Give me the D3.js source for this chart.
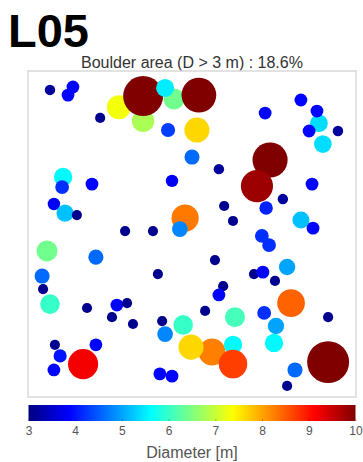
<!DOCTYPE html>
<html>
<head>
<meta charset="utf-8">
<script src="https://cdn.jsdelivr.net/npm/d3@7"></script>
<style>
  html, body { margin: 0; padding: 0; background: #fff; }
  svg { display: block; font-family: "Liberation Sans", Arial, sans-serif; }
</style>
</head>
<body>
<svg id="chart" width="363" height="462"></svg>
<script>
// Boulder positions within the 100 m x 100 m site (metres), in draw order
const boulderX = [
  6.7, 13.7, 12.2, 22.0,
  27.7, 35.1, 44.5, 35.1, 52.1, 41.8, 51.5, 42.7, 50.0,
  10.7, 10.4, 19.5, 43.9, 7.9, 11.3, 14.9,
  47.9, 46.3,
  58.2, 73.8, 69.8, 72.3, 83.2, 88.7, 88.1, 85.7, 94.5, 89.9, 86.6, 77.7, 72.6, 59.8, 62.5, 83.2, 86.9,
  29.6, 38.1, 5.8, 20.7, 4.3, 4.6, 6.7, 18.0, 27.1, 30.2, 25.6, 32.0, 39.6, 40.9,
  47.3, 41.8, 8.2, 9.8, 7.9, 16.8, 20.7, 40.2, 43.9,
  71.3, 73.5, 57.0, 68.9, 71.6, 75.3, 79.0, 59.5, 58.2, 80.2, 54.0, 63.1, 72.0, 75.6, 91.5,
  75.0, 56.1, 49.7, 62.5, 62.5, 81.4, 79.0, 91.5
];
const boulderY = [
  94.2, 95.1, 92.6, 85.6,
  88.9, 84.7, 91.4, 92.3, 92.6, 94.8, 81.9, 81.9, 73.6,
  67.5, 64.4, 65.3, 66.3, 59.2, 56.4, 55.8,
  54.9, 51.5,
  69.9, 72.7, 64.7, 87.1, 91.1, 84.0, 87.7, 81.6, 81.6, 77.6, 65.3, 60.7, 58.0, 58.6, 54.0, 54.3, 51.8,
  50.9, 50.9, 44.8, 42.9, 37.1, 33.1, 28.5, 27.3, 28.2, 28.8, 24.5, 22.4, 37.7, 23.3,
  22.1, 19.3, 16.0, 12.6, 8.3, 10.1, 16.0, 7.1, 6.4,
  49.4, 46.6, 42.0, 37.7, 38.3, 35.6, 39.9, 34.0, 31.3, 28.8, 26.4, 24.5, 25.8, 21.8, 24.5,
  16.6, 13.8, 15.3, 16.0, 10.1, 8.3, 3.4, 10.7
];
// Boulder diameters (m)
const boulderD = [
  3.2, 3.9, 3.9, 3.1,
  7.3, 6.8, 6.4, 12.2, 10.6, 5.5, 7.65, 4.3, 4.6,
  5.6, 4.2, 3.9, 3.8, 3.8, 5.2, 3.1,
  8.3, 4.8,
  3.2, 10.7, 9.8, 3.9, 3.9, 5.4, 3.9, 3.9, 3.2, 5.4, 3.9, 3.2, 4.1, 3.1, 3.1, 5.2, 3.9,
  3.1, 3.1, 6.4, 4.6, 4.6, 3.1, 6.0, 3.1, 3.9, 3.1, 3.1, 3.1, 3.1, 3.1,
  6.0, 4.8, 3.1, 4.0, 3.9, 9.2, 3.9, 3.9, 3.9,
  4.2, 4.2, 3.1, 3.1, 3.9, 3.1, 5.0, 3.1, 3.9, 8.45, 3.1, 6.1, 4.2, 5.0, 3.1,
  5.6, 8.25, 7.65, 5.6, 8.7, 4.6, 3.1, 12.8
];

const colorTicks = [3, 4, 5, 6, 7, 8, 9, 10];
const titleText = "Boulder area (D > 3 m) : 18.6%";
const panelLabel = "L05";
const colorLabel = "Diameter [m]";

// Jet colormap over the 3–10 m diameter range
const jetStops = [0, 0.125, 0.375, 0.625, 0.875, 1];
const jetColors = ["#000080", "#0000ff", "#00ffff", "#ffff00", "#ff0000", "#800000"];
const dMin = 3, dMax = 10;
const color = d3.scaleLinear()
  .domain(jetStops.map(t => dMin + t * (dMax - dMin)))
  .range(jetColors)
  .interpolate(d3.interpolateRgb)
  .clamp(true);

const svg = d3.select("#chart");

const plot = { left: 28, right: 356, top: 71, bottom: 397 };
const x = d3.scaleLinear().domain([0, 100]).range([plot.left, plot.right]);
const y = d3.scaleLinear().domain([0, 100]).range([plot.bottom, plot.top]);
const radius = d => (x(d) - x(0)) / 2;

// Panel label
svg.append("text")
  .attr("x", 8).attr("y", 47)
  .attr("font-size", 47).attr("font-weight", "bold")
  .attr("fill", "#000")
  .text(panelLabel);

// Title
svg.append("text")
  .attr("x", (plot.left + plot.right) / 2).attr("y", 68)
  .attr("text-anchor", "middle")
  .attr("font-size", 16).attr("fill", "#333")
  .text(titleText);

// Frame
svg.append("defs").append("clipPath").attr("id", "plotClip")
  .append("rect")
  .attr("x", plot.left).attr("y", plot.top)
  .attr("width", plot.right - plot.left).attr("height", plot.bottom - plot.top);

svg.append("rect")
  .attr("x", plot.left).attr("y", plot.top)
  .attr("width", plot.right - plot.left).attr("height", plot.bottom - plot.top)
  .attr("fill", "#fff").attr("stroke", "#d9d9d9").attr("stroke-width", 1.5);

// Boulders
const boulders = boulderX.map((bx, i) => ({ x: bx, y: boulderY[i], d: boulderD[i] }));
svg.append("g").attr("clip-path", "url(#plotClip)")
  .selectAll("circle")
  .data(boulders)
  .join("circle")
  .attr("cx", d => x(d.x))
  .attr("cy", d => y(d.y))
  .attr("r", d => radius(d.d))
  .attr("fill", d => color(d.d));

// Colour bar
const bar = { left: 28.5, right: 355.5, top: 405, height: 16 };
const grad = svg.select("defs").append("linearGradient")
  .attr("id", "jetGrad").attr("x1", "0%").attr("x2", "100%").attr("y1", "0%").attr("y2", "0%");
grad.selectAll("stop")
  .data(jetStops)
  .join("stop")
  .attr("offset", t => (t * 100) + "%")
  .attr("stop-color", (t, i) => jetColors[i]);

svg.append("rect")
  .attr("x", bar.left).attr("y", bar.top)
  .attr("width", bar.right - bar.left).attr("height", bar.height)
  .attr("fill", "url(#jetGrad)");

const cx = d3.scaleLinear().domain([dMin, dMax]).range([bar.left, bar.right]);
const axis = svg.append("g")
  .attr("transform", `translate(0,${bar.top + bar.height})`)
  .call(d3.axisBottom(cx).tickValues(colorTicks).tickFormat(d3.format("d"))
    .tickSizeInner(-2).tickSizeOuter(0).tickPadding(5));
axis.select(".domain").remove();
axis.selectAll(".tick line").attr("stroke", "#000").attr("stroke-opacity", 0.25);
axis.selectAll(".tick text")
  .attr("font-family", "Liberation Sans, Arial, sans-serif")
  .attr("font-size", 12).attr("fill", "#555");

svg.append("text")
  .attr("x", (bar.left + bar.right) / 2).attr("y", 458)
  .attr("text-anchor", "middle")
  .attr("font-size", 16).attr("fill", "#555")
  .text(colorLabel);
</script>
</body>
</html>
